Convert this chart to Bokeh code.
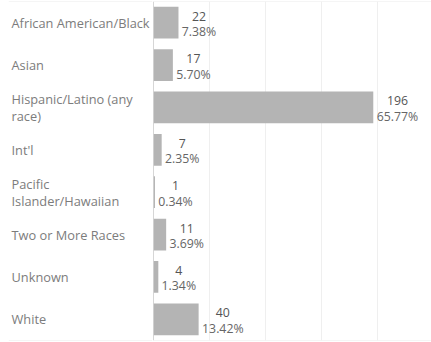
from bokeh.plotting import figure
from bokeh.layouts import row
from bokeh.models import ColumnDataSource, FactorRange, Range1d, FixedTicker, Grid, Span
from bokeh.core.properties import value
from bokeh.embed import file_html
from bokeh.resources import INLINE

categories = ["African American/Black", "Asian", "Hispanic/Latino (any race)", "Int'l",
              "Pacific Islander/Hawaiian", "Two or More Races", "Unknown", "White"]
display_labels = ["African American/Black", "Asian", "Hispanic/Latino (any\nrace)", "Int'l",
                  "Pacific\nIslander/Hawaiian", "Two or More Races", "Unknown", "White"]
counts = [22, 17, 196, 7, 1, 11, 4, 40]
percents = ["7.38%", "5.70%", "65.77%", "2.35%", "0.34%", "3.69%", "1.34%", "13.42%"]
grid_ticks = [50, 100, 150, 200]

FONT = value("Open Sans")
H = 342

yr = FactorRange(factors=list(reversed(categories)), range_padding=0)

src = ColumnDataSource(dict(
    cat=categories,
    lab=display_labels,
    cnt=counts,
    cnt_txt=[str(c) for c in counts],
    pct=percents,
    off=[2 + 3.7 * len(s) for s in percents],
))

def edges(fig):
    for loc in (0, len(categories)):
        fig.add_layout(Span(location=loc, dimension="width", line_color="#ebebeb", line_width=1))

# label column
pl = figure(width=152, height=H, y_range=yr, x_range=Range1d(0, 1),
            output_backend="svg", toolbar_location=None,
            min_border_left=8, min_border_right=0, min_border_top=1, min_border_bottom=2)
pl.axis.visible = False
pl.grid.visible = False
pl.outline_line_color = None
edges(pl)
pl.text(x=0, y="cat", text="lab", source=src, x_offset=3, text_align="left",
        text_baseline="middle", text_font=FONT, text_font_size="12.8px",
        text_color="#7c7c7c", text_line_height=0.95)

# bar column
p = figure(width=279, height=H, y_range=yr, x_range=Range1d(-1.2, 248),
           output_backend="svg", toolbar_location=None,
           min_border_left=0, min_border_right=0, min_border_top=1, min_border_bottom=2)
p.axis.visible = False
p.ygrid.visible = False
p.xgrid.ticker = FixedTicker(ticks=grid_ticks)
p.xgrid.grid_line_color = "#efefef"
p.add_layout(Grid(dimension=0, ticker=FixedTicker(ticks=[0]), grid_line_color="#d6d6d6"))
p.outline_line_color = None
edges(p)

p.hbar(y="cat", left=0, right="cnt", height=0.75, source=src,
       fill_color="#b4b4b4", line_color=None)
p.text(x="cnt", y="cat", text="cnt_txt", source=src, x_offset="off", y_offset=-6.5,
       text_align="center", text_baseline="middle", text_font=FONT,
       text_font_size="12.3px", text_color="#555555")
p.text(x="cnt", y="cat", text="pct", source=src, x_offset="off", y_offset=9,
       text_align="center", text_baseline="middle", text_font=FONT,
       text_font_size="12.3px", text_color="#666666")

layout = row(pl, p)
open("out.html", "w").write(file_html(layout, INLINE))
